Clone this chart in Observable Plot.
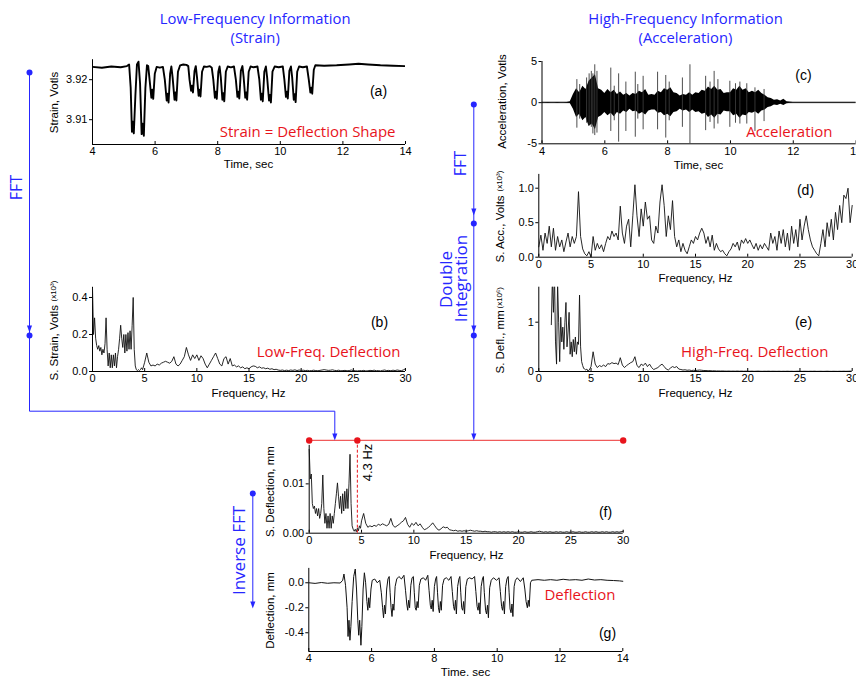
<!DOCTYPE html>
<html><head><meta charset="utf-8">
<script src="https://cdn.jsdelivr.net/npm/d3@7"></script>
<script src="https://cdn.jsdelivr.net/npm/@observablehq/plot@0.6"></script>
<style>
html,body{margin:0;padding:0;background:#fff;overflow:hidden}
#fig{position:relative;width:856px;height:676px;overflow:hidden}
#fig svg{position:absolute;left:0;top:0;background:transparent!important;overflow:visible}
</style></head><body><div id="fig"></div>
<script>
// ---------- DATA ----------
// (a) strain, Volts vs time, sec  [t, v]
const strainTrace = [
[4.0,3.9232],[4.3,3.9230],[4.6,3.9233],[4.9,3.9231],[5.1,3.9234],[5.17,3.9238],
[5.22,3.918],[5.26,3.9070],[5.29,3.9095],[5.32,3.9066],[5.37,3.916],[5.42,3.9238],[5.47,3.9245],
[5.52,3.919],[5.57,3.9064],[5.60,3.9090],[5.64,3.9060],[5.69,3.918],[5.74,3.9236],[5.78,3.9234],
[5.83,3.9195],[5.88,3.9155],[5.91,3.9175],[5.94,3.9152],[5.99,3.9215],[6.05,3.9232],[6.15,3.9230],[6.25,3.9232],
[6.31,3.9200],[6.37,3.9148],[6.40,3.9165],[6.43,3.9143],[6.48,3.9215],[6.52,3.9233],[6.56,3.9205],[6.62,3.9150],[6.65,3.9168],[6.68,3.9148],[6.73,3.9220],[6.80,3.9236],[6.90,3.9238],[7.00,3.9237],[7.06,3.9234],
[7.10,3.9200],[7.15,3.9172],[7.18,3.9185],[7.21,3.9168],[7.26,3.9222],[7.30,3.9234],[7.34,3.9205],[7.39,3.9160],[7.42,3.9175],[7.45,3.9158],[7.50,3.9220],[7.56,3.9233],[7.65,3.9232],[7.75,3.9234],[7.81,3.9230],
[7.86,3.9200],[7.91,3.9155],[7.94,3.9170],[7.97,3.9152],[8.02,3.9220],[8.06,3.9233],[8.10,3.9205],[8.15,3.9150],[8.18,3.9166],[8.21,3.9146],[8.26,3.9220],[8.32,3.9233],[8.42,3.9231],[8.52,3.9233],
[8.58,3.9200],[8.63,3.9157],[8.66,3.9170],[8.69,3.9153],[8.74,3.9222],[8.79,3.9234],[8.83,3.9205],[8.88,3.9155],[8.91,3.9168],[8.94,3.9150],[8.99,3.9220],[9.05,3.9233],[9.15,3.9231],[9.27,3.9233],
[9.33,3.9200],[9.38,3.9150],[9.41,3.9165],[9.44,3.9146],[9.49,3.9220],[9.54,3.9233],[9.58,3.9205],[9.64,3.9148],[9.67,3.9162],[9.70,3.9143],[9.75,3.9220],[9.82,3.9233],[9.95,3.9231],[10.08,3.9233],
[10.13,3.9200],[10.18,3.9157],[10.21,3.9170],[10.24,3.9153],[10.29,3.9222],[10.34,3.9233],[10.38,3.9205],[10.43,3.9150],[10.46,3.9164],[10.49,3.9144],[10.54,3.9220],[10.60,3.9233],[10.72,3.9231],[10.85,3.9233],
[10.91,3.9200],[10.96,3.9168],[10.99,3.9180],[11.02,3.9165],[11.07,3.9225],[11.12,3.9236],[11.4,3.9235],[11.8,3.9236],[12.2,3.9238],[12.5,3.9240],[12.8,3.9238],[13.2,3.9236],[13.6,3.9235],[14.0,3.9234]
];

// (b) spectrum of strain (x10^3), 0–5 Hz every 0.1 Hz, then 5.2–30 Hz every 0.2 Hz
const strainSpecLow = [
0.45,0.20,0.29,0.18,0.14,0.12,0.14,0.11,0.13,0.09,
0.12,0.10,0.15,0.29,0.12,0.03,0.10,0.02,0.09,0.02,
0.09,0.03,0.10,0.02,0.08,0.12,0.18,0.25,0.18,0.13,
0.20,0.10,0.20,0.11,0.21,0.12,0.22,0.12,0.25,0.40,
0.12,0.03,0.01,0.005,0.01,0.005,0.01,0.02,0.01,0.03,
0.05];
const strainSpecHigh = [
0.10,0.05,0.03,0.035,0.03,0.04,0.035,0.045,0.05,0.055,
0.05,0.045,0.055,0.08,0.04,0.03,0.04,0.06,0.08,0.13,
0.09,0.06,0.09,0.07,0.09,0.06,0.085,0.07,0.04,0.02,
0.04,0.06,0.08,0.10,0.07,0.04,0.03,0.07,0.08,0.04,
0.07,0.03,0.035,0.025,0.03,0.02,0.025,0.015,0.02,0.015,
0.025,0.03,0.028,0.02,0.025,0.018,0.02,0.015,0.018,0.012,
0.015,0.01,0.012,0.008,0.006,0.008,0.005,0.007,0.005,0.008,
0.006,0.009,0.005,0.008,0.006,0.007,0.005,0.006,0.004,0.005,
0.007,0.005,0.004,0.006,0.008,0.010,0.008,0.006,0.007,0.009,
0.006,0.005,0.007,0.004,0.005,0.006,0.004,0.005,0.008,0.005,
0.004,0.003,0.005,0.004,0.006,0.003,0.004,0.006,0.005,0.007,
0.004,0.005,0.003,0.006,0.008,0.005,0.006,0.004,0.007,0.005,
0.008,0.006,0.004,0.009,0.015];

// (c) acceleration envelope, 4–14 s every 0.1 s, plus the tall spikes
const accHigh = [
0.05,0.06,0.05,0.05,0.06,0.05,0.05,0.06,0.05,0.10,
1.0,1.7,1.2,2.0,1.6,2.6,3.0,3.4,1.7,1.5,
1.1,1.6,1.2,1.5,1.0,1.3,0.9,1.1,0.8,1.1,
1.0,1.4,1.2,1.6,0.9,1.0,0.9,1.4,1.2,1.7,
1.5,1.8,1.2,1.1,0.8,1.0,0.9,1.2,0.9,1.2,
1.1,1.5,1.4,1.9,1.6,2.0,1.5,1.6,1.1,1.2,
1.2,1.7,1.5,2.0,1.5,1.7,1.2,1.4,1.2,1.5,
1.1,0.9,0.6,0.5,0.3,0.35,0.2,0.4,0.12,0.07,
0.05,0.05,0.06,0.05,0.05,0.05,0.06,0.05,0.05,0.05,
0.05,0.06,0.05,0.05,0.05,0.06,0.05,0.05,0.05,0.05,
0.05];
const accLow = [
-0.05,-0.05,-0.06,-0.05,-0.05,-0.06,-0.05,-0.05,-0.06,-0.10,
-0.8,-1.8,-1.4,-2.2,-1.8,-2.9,-2.6,-3.3,-1.8,-1.6,
-1.2,-1.6,-1.3,-1.7,-1.2,-1.4,-1.0,-1.2,-0.8,-1.1,
-1.0,-1.4,-1.2,-1.5,-1.0,-0.9,-0.9,-1.3,-1.2,-1.6,
-1.4,-1.7,-1.2,-1.1,-0.8,-1.0,-0.9,-1.2,-0.9,-1.2,
-1.1,-1.4,-1.3,-1.8,-1.5,-1.9,-1.4,-1.5,-1.0,-1.1,
-1.1,-1.6,-1.4,-1.9,-1.5,-1.6,-1.2,-1.3,-1.1,-1.4,
-1.0,-0.9,-0.6,-0.5,-0.3,-0.35,-0.2,-0.35,-0.12,-0.07,
-0.05,-0.05,-0.05,-0.05,-0.05,-0.05,-0.05,-0.05,-0.05,-0.05,
-0.05,-0.05,-0.05,-0.05,-0.05,-0.05,-0.05,-0.05,-0.05,-0.05,
-0.05];
const spikeTimes = [5.11,5.20,5.42,5.50,5.57,5.62,5.68,5.75,6.19,6.30,6.44,6.67,6.97,7.05,7.22,7.68,7.94,8.05,8.47,8.71,9.21,9.35,9.48,9.60,9.98,10.16,10.30,10.52,10.78,11.07];
const spikeTops  = [2.8,2.2,3.0,3.5,3.8,3.5,4.6,3.8,4.2,2.0,3.5,2.5,3.7,2.2,3.2,3.7,3.3,2.5,3.0,4.6,3.2,2.5,3.8,2.8,2.6,2.3,2.5,2.3,1.8,1.6];
const spikeBots  = [-3.1,-2.0,-2.5,-2.8,-3.0,-3.8,-4.0,-3.7,-3.5,-2.2,-4.8,-3.5,-4.2,-2.0,-3.3,-3.3,-4.3,-2.2,-3.0,-5.0,-3.4,-2.4,-3.2,-2.6,-3.0,-2.5,-2.6,-2.6,-3.5,-2.3];

// (d) spectrum of acceleration (x10^3), 0–30 Hz every 0.2 Hz
const accSpec = [
0.15,0.32,0.10,0.35,0.20,0.45,0.15,0.42,0.10,0.30,
0.15,0.25,0.08,0.22,0.35,0.15,0.30,0.20,0.30,0.95,
0.30,0.12,0.05,0.02,0.08,0.00,0.30,0.10,0.20,0.12,
0.18,0.08,0.20,0.30,0.25,0.38,0.30,0.35,0.25,0.74,
0.35,0.20,0.45,0.55,0.15,0.60,1.05,0.60,0.30,0.70,
0.45,0.80,0.55,0.60,0.25,0.20,0.45,0.35,0.80,1.05,
0.75,0.30,0.60,0.40,0.82,0.30,0.15,0.25,0.08,0.20,
0.10,0.05,0.15,0.25,0.20,0.30,0.25,0.35,0.42,0.35,
0.20,0.30,0.15,0.32,0.10,0.20,0.12,0.08,0.10,0.05,
0.02,0.08,0.12,0.20,0.15,0.22,0.10,0.25,0.20,0.27,
0.20,0.25,0.18,0.12,0.20,0.10,0.18,0.12,0.20,0.15,
0.10,0.35,0.20,0.30,0.10,0.38,0.20,0.40,0.15,0.35,
0.10,0.45,0.20,0.40,0.15,0.55,0.25,0.45,0.60,0.40,
0.25,0.15,0.10,0.05,0.02,0.20,0.40,0.15,0.50,0.30,
0.55,0.25,0.65,0.40,0.75,0.50,0.90,0.85,1.00,0.50,
0.75];

// (e) spectrum of deflection from acceleration (x10^6), 1.2–5 Hz every 0.1, then 5.2–30 every 0.2
const hfDeflLow = [
0.95,1.9,1.2,2.0,0.6,0.15,1.8,1.0,0.2,1.1,
0.6,0.9,0.45,1.0,1.4,0.5,0.8,1.2,0.35,0.6,
0.3,0.65,0.4,0.7,0.35,0.6,0.55,1.55,0.5,0.2,
0.12,0.06,0.05,0.03,0.05,0.01,0.02,0.06,0.1];
const hfDeflHigh = [
0.4,0.15,0.08,0.12,0.10,0.13,0.10,0.16,0.15,0.18,
0.16,0.17,0.14,0.28,0.13,0.08,0.12,0.15,0.18,0.2,
0.3,0.12,0.08,0.15,0.12,0.17,0.1,0.15,0.08,0.04,
0.06,0.08,0.12,0.15,0.1,0.05,0.03,0.07,0.1,0.08,
0.1,0.05,0.04,0.03,0.035,0.025,0.03,0.02,0.025,0.02,
0.025,0.03,0.025,0.02,0.02,0.015,0.018,0.012,0.015,0.01,
0.012,0.009,0.011,0.008,0.007,0.009,0.006,0.008,0.006,0.009,
0.006,0.008,0.005,0.007,0.006,0.005,0.007,0.004,0.006,0.008,
0.005,0.004,0.006,0.005,0.007,0.004,0.006,0.005,0.004,0.006,
0.003,0.005,0.004,0.006,0.004,0.005,0.003,0.004,0.006,0.004,
0.003,0.005,0.004,0.003,0.005,0.004,0.006,0.003,0.004,0.005,
0.003,0.004,0.006,0.004,0.003,0.005,0.004,0.003,0.005,0.004,
0.006,0.004,0.005,0.007,0.01];

// (f) combined deflection spectrum, mm
const deflSpecLow = [
0.017,0.011,0.012,0.006,0.005,0.0055,0.004,0.005,0.0035,0.005,
0.003,0.004,0.006,0.0118,0.005,0.002,0.004,0.001,0.0035,0.001,
0.004,0.001,0.0035,0.002,0.004,0.006,0.008,0.0102,0.0075,0.005,
0.0075,0.004,0.008,0.0045,0.0085,0.005,0.009,0.005,0.010,0.016,
0.006,0.0015,0.0008,0.0004,0.0008,0.0003,0.001,0.0005,0.0015,0.001,
0.0025];
const deflSpecHigh = [
0.004,0.002,0.0012,0.0015,0.0013,0.0016,0.0014,0.0018,0.0016,0.0019,
0.0017,0.0015,0.0018,0.003,0.0016,0.0012,0.0015,0.0018,0.0022,0.0025,
0.0032,0.0018,0.0012,0.002,0.0016,0.0022,0.0015,0.0019,0.0012,0.0007,
0.0009,0.0012,0.0016,0.0021,0.0015,0.0009,0.0006,0.0009,0.0013,0.0011,
0.0012,0.0007,0.0006,0.0005,0.0006,0.0004,0.0005,0.0004,0.0005,0.0004,
0.0005,0.0006,0.0005,0.0004,0.0005,0.0004,0.0004,0.0003,0.0004,0.0003,
0.0003,0.0002,0.0003,0.0003,0.0002,0.0003,0.0002,0.0003,0.0002,0.0003,
0.0002,0.0003,0.0002,0.0002,0.0003,0.0002,0.0002,0.0003,0.0002,0.0002,
0.0003,0.0002,0.0002,0.0003,0.0004,0.0003,0.0002,0.0003,0.0002,0.0003,
0.0002,0.0002,0.0003,0.0002,0.0003,0.0002,0.0002,0.0003,0.0002,0.0002,
0.0003,0.0002,0.0002,0.0003,0.0002,0.0002,0.0003,0.0002,0.0002,0.0003,
0.0002,0.0003,0.0002,0.0002,0.0003,0.0002,0.0003,0.0002,0.0002,0.0003,
0.0002,0.0003,0.0002,0.0003,0.0004];
const cutoffHz = 4.6;          // where the dashed line sits on the axis
const cutoffLabel = "4.3 Hz";

// (g) reconstructed deflection, mm  [t, v]
const deflTrace = [
[4.0,0.0],[4.2,-0.005],[4.4,0.002],[4.6,-0.004],[4.8,0.0],[5.0,-0.002],[5.08,0.02],[5.12,0.07],[5.17,-0.02],
[5.22,-0.2],[5.25,-0.43],[5.28,-0.3],[5.31,-0.46],[5.34,-0.35],[5.38,-0.15],[5.43,0.05],[5.48,0.11],[5.52,-0.05],
[5.56,-0.3],[5.59,-0.42],[5.62,-0.3],[5.66,-0.5],[5.69,-0.35],[5.73,-0.05],[5.77,0.08],[5.81,0.0],
[5.85,-0.15],[5.88,-0.22],[5.91,-0.12],[5.94,-0.2],[5.98,-0.05],[6.02,0.02],[6.1,0.03],[6.18,0.0],[6.26,0.02],
[6.31,-0.08],[6.35,-0.2],[6.38,-0.28],[6.41,-0.18],[6.44,-0.25],[6.48,-0.05],[6.52,0.03],[6.56,0.05],
[6.59,-0.08],[6.62,-0.2],[6.65,-0.27],[6.68,-0.17],[6.71,-0.22],[6.75,-0.03],[6.8,0.03],[6.87,0.05],[6.95,0.03],[7.03,0.06],
[7.08,-0.06],[7.12,-0.17],[7.15,-0.22],[7.18,-0.14],[7.21,-0.2],[7.25,-0.02],[7.29,0.04],[7.33,0.05],
[7.36,-0.08],[7.39,-0.2],[7.42,-0.22],[7.45,-0.15],[7.48,-0.2],[7.52,-0.02],[7.57,0.03],[7.65,0.04],[7.72,0.02],[7.79,0.06],
[7.83,-0.06],[7.87,-0.18],[7.9,-0.21],[7.93,-0.14],[7.96,-0.23],[8.0,-0.03],[8.04,0.03],[8.07,0.05],
[8.1,-0.08],[8.13,-0.2],[8.16,-0.24],[8.19,-0.15],[8.22,-0.22],[8.26,-0.02],[8.31,0.03],[8.38,0.04],[8.46,0.02],[8.53,0.05],
[8.57,-0.07],[8.61,-0.19],[8.64,-0.22],[8.67,-0.14],[8.7,-0.25],[8.74,-0.03],[8.78,0.03],[8.81,0.05],
[8.84,-0.08],[8.87,-0.2],[8.9,-0.22],[8.93,-0.15],[8.96,-0.25],[9.0,-0.03],[9.05,0.03],[9.12,0.04],[9.2,0.03],[9.28,0.05],
[9.32,-0.07],[9.36,-0.19],[9.39,-0.22],[9.42,-0.16],[9.45,-0.25],[9.49,-0.03],[9.53,0.03],[9.56,0.05],
[9.59,-0.08],[9.63,-0.22],[9.66,-0.25],[9.69,-0.18],[9.72,-0.28],[9.76,-0.04],[9.81,0.02],[9.88,0.04],[9.98,0.02],[10.06,0.04],
[10.1,-0.07],[10.14,-0.19],[10.17,-0.22],[10.2,-0.15],[10.23,-0.25],[10.27,-0.03],[10.31,0.03],[10.35,0.05],
[10.38,-0.08],[10.41,-0.21],[10.44,-0.24],[10.47,-0.17],[10.5,-0.27],[10.54,-0.03],[10.58,0.02],[10.64,0.04],[10.74,0.01],[10.83,0.04],
[10.88,-0.05],[10.92,-0.15],[10.96,-0.2],[10.99,-0.14],[11.02,-0.19],[11.06,0.0],[11.1,0.02],[11.3,0.025],[11.5,0.02],[11.7,0.025],
[11.9,0.02],[12.1,0.028],[12.3,0.022],[12.5,0.025],[12.7,0.02],[12.9,0.03],[13.1,0.022],[13.3,0.025],[13.5,0.02],[13.7,0.018],[13.9,0.015],[14.0,0.012]
];

// tick values
const timeTicks = [4, 6, 8, 10, 12, 14];
const freqTicks = [0, 5, 10, 15, 20, 25, 30];

// ---------- helpers ----------
const W = 856, H = 676;
const NUMFONT = "'Liberation Sans', Arial, sans-serif";
const TXTFONT = "'Open Sans', 'Noto Sans', sans-serif";
const BLUE = "#2626ff", RED = "#e8141c", LRED = "#f05a5a";

const grid = (start, step, vals) => vals.map((v, i) => ({x: +(start + i * step).toFixed(3), y: v}));
const pairs = arr => arr.map(([x, y]) => ({x, y}));

function panel(o) {
  return Plot.plot({
    width: W, height: H,
    marginLeft: o.box[0], marginRight: W - o.box[1], marginTop: o.box[2], marginBottom: H - o.box[3],
    style: `font-family:${NUMFONT};font-size:11px;color:black;background:transparent;overflow:visible;`,
    x: {domain: o.x, ticks: o.xt, tickFormat: o.xf ?? (d => String(d)), tickSize: -3, tickPadding: 6, label: null},
    y: {domain: o.y, ticks: o.yt, tickFormat: o.yf, tickSize: 3, tickPadding: 2, label: null},
    marks: [
      Plot.ruleX([o.x[0]], {stroke: "black", strokeWidth: 1}),
      Plot.ruleY([o.y[0]], {stroke: "black", strokeWidth: 1}),
      ...o.marks
    ]
  });
}

const fig = document.getElementById("fig");

// (a)
fig.appendChild(panel({
  box: [92, 405, 59.2, 144], x: [4, 14], y: [3.9038, 3.9250],
  xt: timeTicks, yt: [3.91, 3.92], yf: d => d.toFixed(2),
  marks: [Plot.line(pairs(strainTrace), {x: "x", y: "y", stroke: "black", strokeWidth: 1.9, clip: true})]
}));
// (b)
fig.appendChild(panel({
  box: [92, 405, 286.8, 371], x: [0, 30], y: [0, 0.455],
  xt: freqTicks, yt: [0, 0.2, 0.4], yf: d => d.toFixed(1),
  marks: [Plot.line([...grid(0, 0.1, strainSpecLow), ...grid(5.2, 0.2, strainSpecHigh)], {x: "x", y: "y", stroke: "#111", strokeWidth: 0.9})]
}));
// (c)
const accEnv = accHigh.map((h, i) => ({t: +(4 + i * 0.1).toFixed(2), hi: h, lo: accLow[i]}));
const spikes = spikeTimes.map((t, i) => ({t, hi: spikeTops[i], lo: spikeBots[i]}));
fig.appendChild(panel({
  box: [541.5, 855.6, 61, 143.3], x: [4, 14], y: [-5, 5],
  xt: timeTicks, yt: [-5, 0, 5], yf: d => String(d),
  marks: [
    Plot.ruleY([0], {stroke: "black", strokeWidth: 0.8}),
    Plot.areaY(accEnv, {x: "t", y1: "lo", y2: "hi", fill: "black"}),
    Plot.ruleX(spikes, {x: "t", y1: "lo", y2: "hi", stroke: "#3a3a3a", strokeWidth: 0.9})
  ]
}));
// (d)
fig.appendChild(panel({
  box: [538.3, 851.7, 173.9, 256.7], x: [0, 30], y: [0, 1.2],
  xt: freqTicks, yt: [0, 0.5, 1.0], yf: d => d.toFixed(1),
  marks: [Plot.line(grid(0, 0.2, accSpec), {x: "x", y: "y", stroke: "#111", strokeWidth: 0.9})]
}));
// (e)
fig.appendChild(panel({
  box: [538.3, 851.7, 286.7, 371], x: [0, 30], y: [0, 1.71],
  xt: freqTicks, yt: [0, 1], yf: d => String(d),
  marks: [Plot.line([...grid(1.2, 0.1, hfDeflLow), ...grid(5.2, 0.2, hfDeflHigh)], {x: "x", y: "y", stroke: "#111", strokeWidth: 0.9, clip: true})]
}));
// (f)
const redLevel = 0.0188;
fig.appendChild(panel({
  box: [308.7, 622.7, 444.9, 532.7], x: [0, 30], y: [0, 0.0178],
  xt: freqTicks, yt: [0, 0.01], yf: d => d.toFixed(2),
  marks: [
    Plot.line([...grid(0, 0.1, deflSpecLow), ...grid(5.2, 0.2, deflSpecHigh)], {x: "x", y: "y", stroke: "#111", strokeWidth: 0.9}),
    Plot.ruleX([cutoffHz], {y1: 0, y2: redLevel, stroke: RED, strokeWidth: 1, strokeDasharray: "3,2"}),
    Plot.ruleY([redLevel], {x1: 0, x2: 30, stroke: LRED, strokeWidth: 1.2}),
    Plot.dot([0, cutoffHz, 30], {x: d => d, y: () => redLevel, r: 3.2, fill: RED, stroke: "none"})
  ]
}));
// (g)
fig.appendChild(panel({
  box: [308.3, 622.3, 567.9, 651], x: [4, 14], y: [-0.55, 0.115],
  xt: timeTicks, yt: [0, -0.2, -0.4], yf: d => d.toFixed(1),
  marks: [Plot.line(pairs(deflTrace), {x: "x", y: "y", stroke: "#111", strokeWidth: 1})]
}));

// ---------- annotation overlay (flow arrows and texts) ----------
const arrowDown = {draw(ctx, size) {
  const s = Math.sqrt(size / Math.PI);
  ctx.moveTo(0, 0); ctx.lineTo(-0.85 * s, -2.3 * s); ctx.lineTo(0.85 * s, -2.3 * s); ctx.closePath();
}};
const flowPaths = [
  {id: "left", pts: [[29, 72], [29, 410.7], [334.3, 410.7], [334.3, 436]]},
  {id: "mid", pts: [[473.3, 104], [473.3, 436]]},
  {id: "inv", pts: [[252.3, 493], [252.3, 603]]}
];
const flowNodes = [[29, 72], [29, 335], [473.3, 104], [473.3, 223], [473.3, 335], [252.3, 493]];
const flowTips = [[29, 332], [473.3, 215], [473.3, 332], [334.3, 440], [473.3, 440], [252.3, 608]];

function txt(s, x, y, o = {}) {
  return Plot.text([s], {
    x: () => x, y: () => y, text: d => d,
    fill: o.fill ?? "black", fontSize: o.size ?? 11, fontFamily: o.font ?? NUMFONT,
    rotate: o.rot ?? 0, textAnchor: o.anchor ?? "middle", lineAnchor: "middle"
  });
}

const overlay = Plot.plot({
  width: W, height: H, margin: 0,
  style: "background:transparent;overflow:visible;",
  x: {domain: [0, W], range: [0, W], axis: null},
  y: {domain: [0, H], range: [0, H], axis: null},
  marks: [
    Plot.line(flowPaths.flatMap(p => p.pts.map(([x, y]) => ({id: p.id, x, y}))), {x: "x", y: "y", z: "id", stroke: BLUE, strokeWidth: 1}),
    Plot.dot(flowNodes, {x: d => d[0], y: d => d[1], r: 3, fill: BLUE, stroke: "none"}),
    Plot.dot(flowTips, {x: d => d[0], y: d => d[1], r: 3, symbol: arrowDown, fill: BLUE, stroke: "none"}),
    // titles
    txt("Low-Frequency Information", 254.7, 19, {fill: BLUE, size: 14.8, font: TXTFONT}),
    txt("(Strain)", 254.7, 38, {fill: BLUE, size: 14.8, font: TXTFONT}),
    txt("High-Frequency Information", 685, 19, {fill: BLUE, size: 14.8, font: TXTFONT}),
    txt("(Acceleration)", 685, 38, {fill: BLUE, size: 14.8, font: TXTFONT}),
    // flow labels
    txt("FFT", 16, 187, {fill: BLUE, size: 16, font: TXTFONT, rot: -90}),
    txt("FFT", 460, 163, {fill: BLUE, size: 16, font: TXTFONT, rot: -90}),
    txt("Double", 446, 279, {fill: BLUE, size: 17, font: TXTFONT, rot: -90}),
    txt("Integration", 461, 278, {fill: BLUE, size: 17, font: TXTFONT, rot: -90}),
    txt("Inverse FFT", 239, 550, {fill: BLUE, size: 17, font: TXTFONT, rot: -90}),
    // red captions
    txt("Strain = Deflection Shape", 395, 132, {fill: RED, size: 15, font: TXTFONT, anchor: "end"}),
    txt("Low-Freq. Deflection", 400, 352, {fill: RED, size: 15, font: TXTFONT, anchor: "end"}),
    txt("Acceleration", 832, 132, {fill: RED, size: 15, font: TXTFONT, anchor: "end"}),
    txt("High-Freq. Deflection", 828, 352, {fill: RED, size: 15, font: TXTFONT, anchor: "end"}),
    txt("Deflection", 615, 595, {fill: RED, size: 15, font: TXTFONT, anchor: "end"}),
    // panel letters
    txt("(a)", 378, 91, {size: 14}), txt("(b)", 379, 322, {size: 14}), txt("(c)", 803, 75, {size: 14}),
    txt("(d)", 805, 190, {size: 14}), txt("(e)", 803, 322, {size: 14}), txt("(f)", 605, 512, {size: 14}),
    txt("(g)", 607, 633, {size: 14}),
    // axis titles
    txt("Strain, Votls", 54, 102, {rot: -90, size: 11.5}),
    txt("Time, sec", 248, 164, {size: 11.5}),
    txt("S. Strain, Votls", 54, 380, {rot: -90, anchor: "start", size: 11.5}),
    txt("(x10³)", 53, 301, {rot: -90, anchor: "start", size: 8}),
    txt("Frequency, Hz", 248, 393, {size: 11.5}),
    txt("Acceleration, Votls", 502, 101, {rot: -90, size: 11.5}),
    txt("Time, sec", 698, 165, {size: 11.5}),
    txt("S. Acc., Volts", 500, 262, {rot: -90, anchor: "start", size: 11.5}),
    txt("(x10³)", 499, 191, {rot: -90, anchor: "start", size: 8}),
    txt("Frequency, Hz", 695, 278, {size: 11.5}),
    txt("S. Defl., mm", 500, 373, {rot: -90, anchor: "start", size: 11.5}),
    txt("(x10⁶)", 499, 308, {rot: -90, anchor: "start", size: 8}),
    txt("Frequency, Hz", 695, 393, {size: 11.5}),
    txt("S. Deflection, mm", 270, 491, {rot: -90, size: 11.5}),
    txt("Frequency, Hz", 466, 555, {size: 11.5}),
    txt(cutoffLabel, 367, 462, {rot: -90, size: 13}),
    txt("Deflection, mm", 270, 610, {rot: -90, size: 11.5}),
    txt("Time, sec", 465, 672, {size: 11.5})
  ]
});
fig.appendChild(overlay);
</script></body></html>
